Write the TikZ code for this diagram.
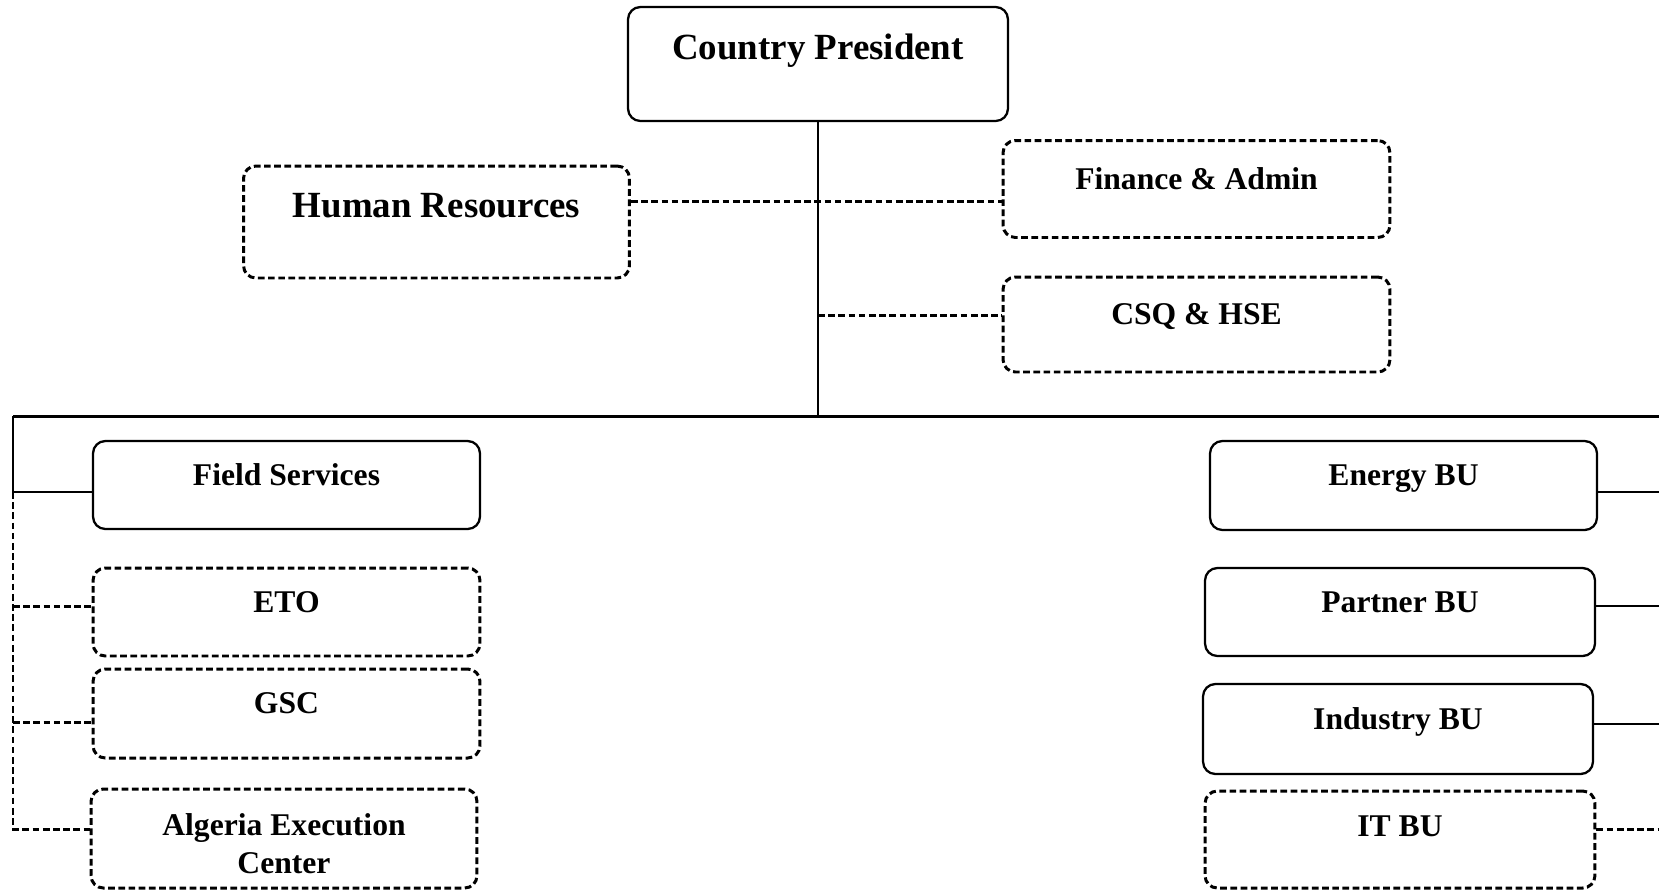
\documentclass[tikz,border=0pt]{standalone}
\usepackage{fontspec}
\setmainfont{Liberation Serif}

\tikzset{
  unit/.style={draw, rounded corners=7pt, line width=1.3pt, inner sep=0pt, align=center,
    font=\fontsize{18}{21.6}\selectfont\bfseries, text height=12pt, text depth=12pt},
  dashunit/.style={unit, line width=1.7pt, dash pattern=on 3.8pt off 2pt},
  bigunit/.style={font=\fontsize{21}{25}\selectfont\bfseries, text height=12pt, text depth=16.6pt},
  mainline/.style={line width=1.4pt},
  dashline/.style={line width=1.7pt, dash pattern=on 3.8pt off 2pt},
}

\begin{document}
\begin{tikzpicture}[x=0.02cm, y=-0.02cm]
\useasboundingbox (0,0) rectangle (1659,890);

% Head and staff functions
\node[unit, bigunit, minimum width=7.6cm, minimum height=2.28cm] (cp) at (818,64) {Country President};
\node[dashunit, bigunit, minimum width=7.72cm, minimum height=2.24cm] (hr) at (436.5,222) {Human Resources};
\node[dashunit, minimum width=7.74cm, minimum height=1.94cm] (fin) at (1196.5,189) {Finance \& Admin};
\node[dashunit, minimum width=7.74cm, minimum height=1.9cm] (csq) at (1196.5,324.5) {CSQ \& HSE};

% Left column
\node[unit, minimum width=7.74cm, minimum height=1.76cm] (fs) at (286.5,485) {Field Services};
\node[dashunit, minimum width=7.74cm, minimum height=1.76cm] (eto) at (286.5,612) {ETO};
\node[dashunit, minimum width=7.74cm, minimum height=1.78cm] (gsc) at (286.5,713.5) {GSC};
\node[dashunit, minimum width=7.72cm, minimum height=1.98cm, text height=41.4pt, text depth=1.8pt] (aec) at (284,838.5) {Algeria Execution\\Center};

% Right column
\node[unit, minimum width=7.74cm, minimum height=1.78cm] (en) at (1403.5,485.5) {Energy BU};
\node[unit, minimum width=7.8cm, minimum height=1.76cm] (pa) at (1400,612) {Partner BU};
\node[unit, minimum width=7.8cm, minimum height=1.8cm] (ind) at (1398,729) {Industry BU};
\node[dashunit, minimum width=7.8cm, minimum height=1.94cm, text depth=15.6pt] (it) at (1400,839.5) {IT BU};

% Trunk and bus
\coordinate (busL) at (13,416);
\coordinate (busR) at (1659,416);
\coordinate (hrlink) at (818,201);
\coordinate (csqlink) at (818,315);
\draw[mainline] (cp.south) -- (cp.south |- busL);
\draw[line width=1.7pt] (busL) -- (busR);
\draw[dashline] (hr.east |- hrlink) -- (fin.west |- hrlink);
\draw[dashline] (csqlink) -- (csq.west |- csqlink);

% Left spine
\coordinate (fslink) at (13,492);
\coordinate (spineend) at (13,829);
\draw[mainline] (busL) -- (fslink) -- (fs.west |- fslink);
\draw[dashline] (fslink) -- (spineend) -- (aec.west |- spineend);
\foreach \u/\yy in {eto/606, gsc/722} {
  \coordinate (\u-l) at (13,\yy);
  \draw[dashline] (\u-l) -- (\u.west |- \u-l);
}

% Right links, running off the page
\foreach \u/\yy in {en/492, pa/606, ind/724} {
  \coordinate (\u-r) at (1659,\yy);
  \draw[mainline] (\u.east |- \u-r) -- (\u-r);
}
\coordinate (it-r) at (1659,829);
\draw[dashline] (it.east |- it-r) -- (it-r);
\end{tikzpicture}
\end{document}
